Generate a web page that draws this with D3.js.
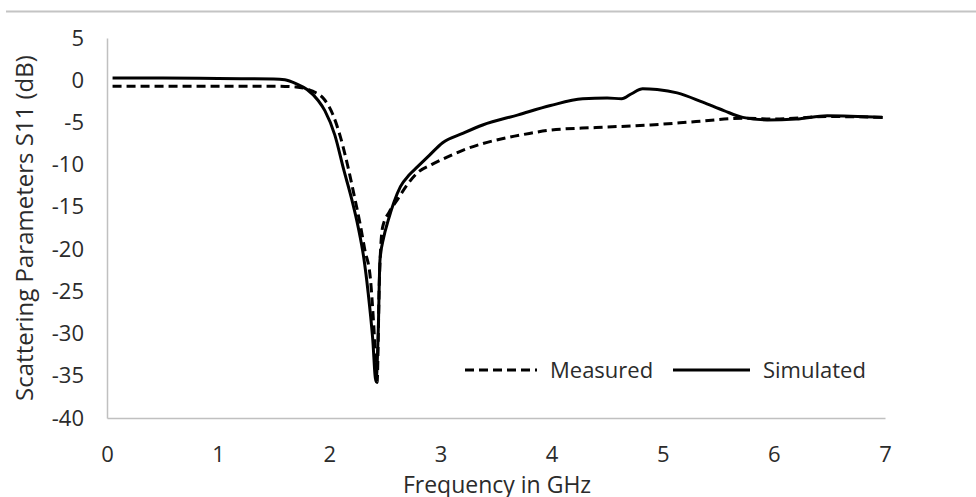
<!DOCTYPE html>
<html>
<head>
<meta charset="utf-8">
<script src="https://cdn.jsdelivr.net/npm/d3@7"></script>
<style>
  body { margin: 0; background: #fff; }
  text { font-family: "Open Sans", "Noto Sans", sans-serif; fill: #2b2b2b; }
</style>
</head>
<body>
<div class="chart"></div>
<script>
// data (frequency GHz, S11 dB)
var measuredFreq = [0.05, 0.5, 1.0, 1.5, 1.7, 1.85, 1.95, 2.03, 2.1, 2.16, 2.22, 2.28, 2.32, 2.37, 2.4, 2.43, 2.45, 2.48, 2.54, 2.61, 2.7, 2.79, 2.92, 3.06, 3.2, 3.38, 3.6, 3.8, 3.99, 4.4, 4.89, 5.3, 5.72, 6.0, 6.5, 6.98];
var measuredS11 = [-0.7, -0.7, -0.7, -0.7, -0.8, -1.3, -2.2, -4.0, -6.7, -9.8, -13.4, -17.2, -20.1, -23.5, -29, -35.8, -24, -17.4, -15.6, -14.2, -12.4, -11.0, -10.0, -9.1, -8.3, -7.5, -6.8, -6.3, -5.9, -5.6, -5.3, -4.9, -4.5, -4.6, -4.3, -4.4];

var simulatedFreq = [0.05, 0.5, 1.0, 1.5, 1.6, 1.7, 1.8, 1.9, 1.96, 2.05, 2.13, 2.2, 2.26, 2.31, 2.35, 2.39, 2.42, 2.44, 2.456, 2.49, 2.53, 2.58, 2.64, 2.72, 2.79, 2.9, 3.02, 3.2, 3.38, 3.7, 3.99, 4.28, 4.5, 4.63, 4.72, 4.82, 4.95, 5.13, 5.36, 5.55, 5.72, 5.94, 6.2, 6.48, 6.98];
var simulatedS11 = [0.25, 0.25, 0.2, 0.15, 0.05, -0.4, -1.1, -2.4, -3.6, -6.5, -10.6, -14.0, -17.4, -21.0, -25.2, -30.5, -35.7, -30, -21.3, -18.6, -16.6, -14.5, -12.6, -11.2, -10.3, -8.9, -7.4, -6.3, -5.3, -4.1, -3.0, -2.2, -2.1, -2.2, -1.6, -1.0, -1.1, -1.5, -2.6, -3.6, -4.4, -4.7, -4.6, -4.2, -4.4];

var xTicks = [0, 1, 2, 3, 4, 5, 6, 7];
var yTicks = [5, 0, -5, -10, -15, -20, -25, -30, -35, -40];

var seriesNames = ["Measured", "Simulated"];

var svgWidth = 976;
var svgHeight = 497;

var margin = { top: 38, right: 91, bottom: 79, left: 107 };
var width = svgWidth - margin.left - margin.right;
var height = svgHeight - margin.top - margin.bottom;

var svg = d3.select(".chart")
  .append("svg")
  .attr("width", svgWidth)
  .attr("height", svgHeight);

// grey rule across the top of the figure
svg.append("line")
  .attr("x1", 6).attr("x2", svgWidth)
  .attr("y1", 11.5).attr("y2", 11.5)
  .attr("stroke", "#c4c4c4")
  .attr("stroke-width", 2);

var chartGroup = svg.append("g")
  .attr("transform", `translate(${margin.left}, ${margin.top})`);

var xScale = d3.scaleLinear().domain([0, 7]).range([0, width]);
var yScale = d3.scaleLinear().domain([-40, 5]).range([height, 0]);

// axes, Excel style: grey line, no ticks, plain hyphen minus
var bottomAxis = d3.axisBottom(xScale).tickValues(xTicks).tickSize(0).tickPadding(28)
  .tickFormat(d => String(d));
var leftAxis = d3.axisLeft(yScale).tickValues(yTicks).tickSize(0).tickPadding(23)
  .tickFormat(d => String(d));

var xg = chartGroup.append("g")
  .attr("transform", `translate(0, ${height})`)
  .call(bottomAxis);

var yg = chartGroup.append("g")
  .call(leftAxis);

[xg, yg].forEach(function (g) {
  g.select(".domain").attr("stroke", "#c0c0c0").attr("stroke-width", 1.5);
  g.selectAll("text").style("font-size", "22px").attr("fill", "#2b2b2b");
});

// lines
var line = d3.line()
  .x(d => xScale(d[0]))
  .y(d => yScale(d[1]))
  .curve(d3.curveMonotoneX);

var measured = measuredFreq.map((f, i) => [f, measuredS11[i]]);
var simulated = simulatedFreq.map((f, i) => [f, simulatedS11[i]]);

chartGroup.append("path")
  .datum(measured)
  .attr("d", line)
  .attr("fill", "none")
  .attr("stroke", "#000")
  .attr("stroke-width", 3)
  .attr("stroke-dasharray", "9,5");

chartGroup.append("path")
  .datum(simulated)
  .attr("d", line)
  .attr("fill", "none")
  .attr("stroke", "#000")
  .attr("stroke-width", 3);

// legend
var legend = svg.append("g").attr("transform", "translate(465, 370)");
var legendItems = [
  { name: seriesNames[0], dash: "9,5", x: 0, w: 72 },
  { name: seriesNames[1], dash: null, x: 208, w: 77 }
];
legendItems.forEach(function (item) {
  legend.append("line")
    .attr("x1", item.x).attr("x2", item.x + item.w)
    .attr("y1", 0).attr("y2", 0)
    .attr("stroke", "#000")
    .attr("stroke-width", 3)
    .attr("stroke-dasharray", item.dash);
  legend.append("text")
    .attr("x", item.x + item.w + 13)
    .attr("y", 8)
    .style("font-size", "22px")
    .text(item.name);
});

// axis titles
svg.append("text")
  .attr("x", 497)
  .attr("y", 493)
  .attr("text-anchor", "middle")
  .style("font-size", "23px")
  .text("Frequency in GHz");

svg.append("text")
  .attr("transform", "translate(25, 228) rotate(-90)")
  .attr("text-anchor", "middle")
  .attr("dy", "0.35em")
  .style("font-size", "24px")
  .text("Scattering Parameters S11 (dB)");
</script>
</body>
</html>
